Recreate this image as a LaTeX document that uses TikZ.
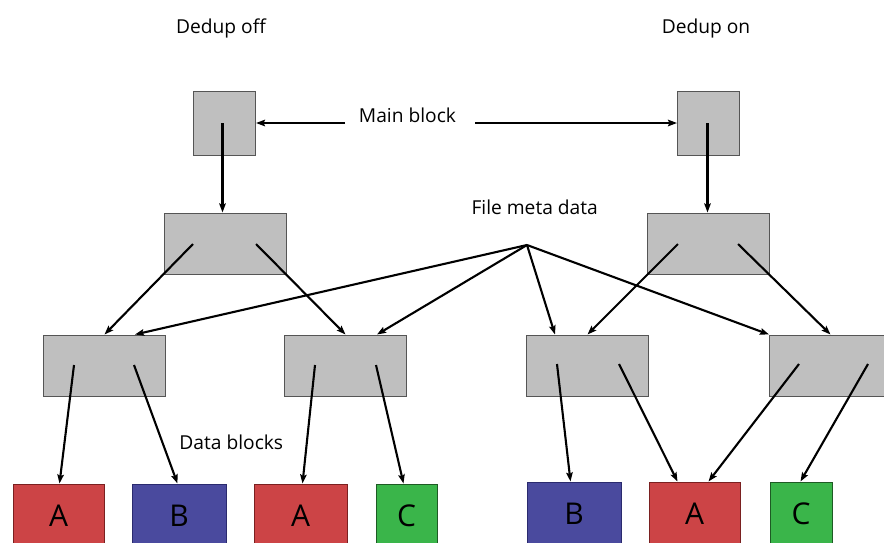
\documentclass[tikz,border=0pt]{standalone}
\usepackage{fontspec}
\setmainfont{Open Sans}
\usetikzlibrary{arrows.meta}
\definecolor{blkgray}{HTML}{BFBFBF}
\definecolor{blkedge}{HTML}{555555}
\definecolor{datared}{HTML}{CC4446}
\definecolor{redge}{HTML}{7A2020}
\definecolor{datablue}{HTML}{4A4A9E}
\definecolor{bedge}{HTML}{2A2A6E}
\definecolor{datagreen}{HTML}{3AB54A}
\definecolor{gedge}{HTML}{1E5A24}
\tikzset{
  meta/.style={draw=blkedge, fill=blkgray, line width=1pt, inner sep=0pt},
  mainbox/.style={meta, minimum width=62pt, minimum height=64pt},
  filebox/.style={meta, minimum width=122pt, minimum height=61pt},
  dblock/.style={line width=1pt, inner sep=0pt, minimum height=64pt,
                 font=\fontsize{30}{30}\selectfont},
  blockA/.style={dblock, draw=redge, fill=datared},
  blockB/.style={dblock, draw=bedge, fill=datablue},
  blockC/.style={dblock, draw=gedge, fill=datagreen},
  lbl/.style={anchor=base, inner sep=0pt, font=\fontsize{19.2}{19.2}\selectfont},
  arr/.style={line width=2.1pt, -{Stealth[length=9pt,width=6.5pt,inset=1.5pt]}},
}
\begin{document}
\begin{tikzpicture}[x=1pt,y=-1pt]
\useasboundingbox (0,0) rectangle (884,542);
\clip (0,0) rectangle (884,542);

% captions
\node[lbl] (off) at (221,33) {Dedup off};
\node[lbl] (on)  at (706,33) {Dedup on};
\node[lbl] (mb)  at (407.5,122.7) {Main block};
\node[lbl] (fmd) at (534.7,214.3) {File meta data};
\node[lbl] (db)  at (231.3,449.3) {Data blocks};

% main blocks
\node[mainbox] (m1) at (224.5,123) {};
\node[mainbox] (m2) at (708.5,123) {};

% file blocks
\node[filebox] (f1) at (225,243.5) {};
\node[filebox] (f2) at (708.5,243.5) {};

% indirect blocks
\node[filebox] (i1) at (104.5,365.5) {};
\node[filebox] (i2) at (345.5,365.5) {};
\node[filebox] (i3) at (587.5,365.5) {};
\node[filebox] (i4) at (830.5,365.5) {};

% data blocks
\node[blockA, minimum width=91pt] (a1) at (58.5,516) {A};
\node[blockB, minimum width=94pt] (b1) at (179,516) {B};
\node[blockA, minimum width=93pt] (a2) at (300.5,516) {A};
\node[blockC, minimum width=61pt] (c1) at (406.5,516) {C};
\node[blockB, minimum width=94pt] (b2) at (574,514) {B};
\node[blockA, minimum width=91pt] (a3) at (694.5,514) {A};
\node[blockC, minimum width=62pt] (c2) at (801,514) {C};

% free ends of connectors
\coordinate (mbL) at (345,123);
\coordinate (mbR) at (475,123);
\coordinate (m1s) at (222.5,123);
\coordinate (m2s) at (707.5,123);
\coordinate (fm)  at (527,245);
\coordinate (f1l) at (193,244);
\coordinate (f1r) at (256,244);
\coordinate (f2l) at (678,244);
\coordinate (f2r) at (738,244);
\coordinate (i1l) at (74,365);
\coordinate (i1r) at (134,365);
\coordinate (i2l) at (315,365);
\coordinate (i2r) at (376,365);
\coordinate (i3l) at (557,364);
\coordinate (i3r) at (619,364);
\coordinate (i4l) at (799,364);
\coordinate (i4r) at (868,364);

% main block pointers
\draw[arr] (mbL) -- (m1.east);
\draw[arr] (mbR) -- (m2.west);
\draw[arr] (m1s) -- (m1s |- f1.north);
\draw[arr] (m2s) -- (m2s |- f2.north);

% file block pointers
\draw[arr] (f1l) -- (i1.north);
\draw[arr] (f1r) -- (i2.north);
\draw[arr] (f2l) -- (i3.north);
\draw[arr] (f2r) -- (i4.north);

% file meta data pointers
\draw[arr] (fm) -- ([xshift=92pt]i1.north west);
\draw[arr] (fm) -- ([xshift=93pt]i2.north west);
\draw[arr] (fm) -- ([xshift=29pt]i3.north west);
\draw[arr] (fm) -- (i4.north west);

% data block pointers
\draw[arr] (i1l) -- ([xshift=47pt]a1.north west);
\draw[arr] (i1r) -- ([xshift=46pt]b1.north west);
\draw[arr] (i2l) -- ([xshift=49pt]a2.north west);
\draw[arr] (i2r) -- ([xshift=28pt]c1.north west);
\draw[arr] (i3l) -- ([xshift=44pt]b2.north west);
\draw[arr] (i3r) -- ([xshift=29pt]a3.north west);
\draw[arr] (i4l) -- ([xshift=60pt]a3.north west);
\draw[arr] (i4r) -- ([xshift=31pt]c2.north west);
\end{tikzpicture}
\end{document}
